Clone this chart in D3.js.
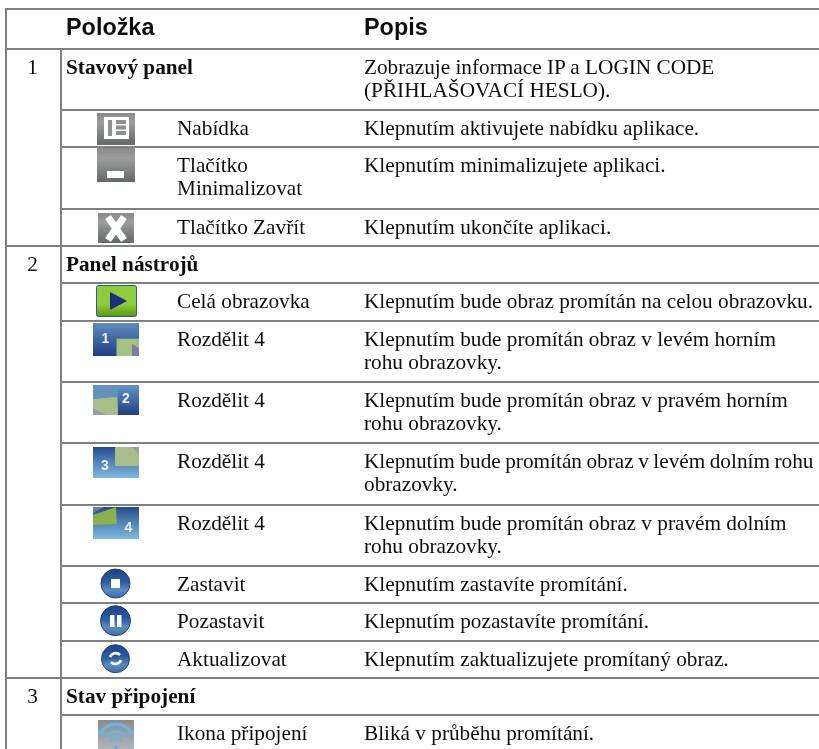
<!DOCTYPE html>
<html>
<head>
<meta charset="utf-8">
<script src="https://cdn.jsdelivr.net/npm/d3@7"></script>
<style>
html, body { margin: 0; padding: 0; background: #fff; overflow: hidden; }
text { fill: #111; }
</style>
</head>
<body>
<svg id="chart" width="819" height="749"></svg>
<script>
const headers = ["Položka", "Popis"];
const sectionNumbers = ["1", "2", "3"];
const rowBold = ["Stavový panel", "", "", "", "Panel nástrojů", "", "", "", "", "", "", "", "", "Stav připojení", ""];
const rowItems = ["", "Nabídka", "Tlačítko\nMinimalizovat", "Tlačítko Zavřít", "", "Celá obrazovka",
    "Rozdělit 4", "Rozdělit 4", "Rozdělit 4", "Rozdělit 4", "Zastavit", "Pozastavit", "Aktualizovat", "", "Ikona připojení"];
const rowDescriptions = [
    "Zobrazuje informace IP a LOGIN CODE\n(PŘIHLAŠOVACÍ HESLO).",
    "Klepnutím aktivujete nabídku aplikace.",
    "Klepnutím minimalizujete aplikaci.",
    "Klepnutím ukončíte aplikaci.",
    "",
    "Klepnutím bude obraz promítán na celou obrazovku.",
    "Klepnutím bude promítán obraz v levém horním\nrohu obrazovky.",
    "Klepnutím bude promítán obraz v pravém horním\nrohu obrazovky.",
    "Klepnutím bude promítán obraz v levém dolním rohu\nobrazovky.",
    "Klepnutím bude promítán obraz v pravém dolním\nrohu obrazovky.",
    "Klepnutím zastavíte promítání.",
    "Klepnutím pozastavíte promítání.",
    "Klepnutím zaktualizujete promítaný obraz.",
    "",
    "Bliká v průběhu promítání."
];
const rowIcons = ["", "menu", "minimize", "close", "", "play", "split1", "split2", "split3", "split4", "stop", "pause", "refresh", "", "wifi"];

// horizontal rules of the table, first one is the top edge, second one closes the header
const rules = [9, 49, 110, 147, 209, 246, 283, 321, 382, 443, 505, 566, 603, 641, 678, 715];
const sectionStarts = [0, 4, 13];

const svg = d3.select("#chart");
const defs = svg.append("defs");
const serif = "'Liberation Serif', serif";
const sans = "'Liberation Sans', sans-serif";
const lineColor = "#808080";
const bodySize = 21.25;
const baseline = i => rules[i + 1] + 24.5;

function addGradient(id, stops) {
    const g = defs.append("linearGradient").attr("id", id)
        .attr("x1", 0).attr("y1", 0).attr("x2", 0).attr("y2", 1);
    stops.forEach(s => g.append("stop").attr("offset", s[0]).attr("stop-color", s[1]));
}
addGradient("gray", [[0, "#8a8a8a"], [0.3, "#9c9c9c"], [1, "#646868"]]);
addGradient("green", [[0, "#8ecb3f"], [0.6, "#8fcf3a"], [1, "#5a9410"]]);
addGradient("blueDark", [[0, "#5f8dbd"], [1, "#1f3f82"]]);
addGradient("blueLight", [[0, "#27498c"], [0.45, "#4d80b4"], [1, "#82b8dc"]]);
addGradient("round", [[0, "#1f4289"], [0.45, "#2f5c9e"], [0.72, "#5a8cc0"], [1, "#3f6ca8"]]);
addGradient("wifiBack", [[0, "#8c8c8c"], [1, "#b0b4b6"]]);

const blur = defs.append("filter").attr("id", "soft");
blur.append("feGaussianBlur").attr("stdDeviation", 0.35);

function drawRules() {
    const g = svg.append("g").attr("stroke", lineColor).attr("stroke-width", 2);
    g.selectAll("line.row").data(rules).enter().append("line")
        .attr("class", "row")
        .attr("x1", (d, i) => (i < 2 || sectionStarts.includes(i - 1)) ? 6 : 61)
        .attr("x2", 819)
        .attr("y1", d => d).attr("y2", d => d);
    g.append("line").attr("x1", 6).attr("x2", 6).attr("y1", 8).attr("y2", 749);
    g.append("line").attr("x1", 61).attr("x2", 61).attr("y1", 49).attr("y2", 749);
}

function drawTexts() {
    const g = svg.append("g").attr("filter", "url(#soft)");
    g.selectAll("text.header").data(headers).enter().append("text")
        .attr("class", "header")
        .attr("x", (d, i) => i === 0 ? 66 : 364)
        .attr("y", 35)
        .attr("font-family", sans).attr("font-weight", "bold").attr("font-size", 23.4)
        .text(d => d);

    g.selectAll("text.num").data(sectionNumbers).enter().append("text")
        .attr("class", "num")
        .attr("x", 32.5).attr("y", (d, i) => baseline(sectionStarts[i]))
        .attr("text-anchor", "middle")
        .attr("font-family", serif).attr("font-size", bodySize)
        .text(d => d);

    g.selectAll("text.bold").data(rowBold).enter().append("text")
        .attr("class", "bold")
        .attr("x", 66).attr("y", (d, i) => baseline(i))
        .attr("font-family", serif).attr("font-weight", "bold").attr("font-size", bodySize)
        .text(d => d);

    function multiline(cls, data, x) {
        const rows = g.selectAll("text." + cls).data(data).enter().append("text")
            .attr("class", cls)
            .attr("x", x)
            .attr("y", (d, i) => baseline(i))
            .attr("font-family", serif).attr("font-size", bodySize);
        rows.selectAll("tspan").data(d => d.split("\n")).enter().append("tspan")
            .attr("x", x)
            .attr("dy", (d, i) => i === 0 ? 0 : 23.7)
            // the long line is set a bit tighter in the original
            .style("word-spacing", d => d.includes("dolním rohu") ? "-0.8px" : null)
            .text(d => d);
    }
    multiline("item", rowItems, 177);
    multiline("desc", rowDescriptions, 364);
}

const iconDrawers = {
    menu(g) {
        g.append("rect").attr("x", 97).attr("y", 113).attr("width", 38).attr("height", 32).attr("fill", "url(#gray)");
        g.append("rect").attr("x", 104).attr("y", 117).attr("width", 25).attr("height", 22).attr("fill", "#fff");
        g.append("rect").attr("x", 108).attr("y", 120).attr("width", 4).attr("height", 16).attr("fill", "#8f9090");
        g.selectAll("rect.bar").data([120, 125.5, 131]).enter().append("rect")
            .attr("x", 116).attr("y", d => d).attr("width", 10).attr("height", 4).attr("fill", "#8f9090");
    },
    minimize(g) {
        g.append("rect").attr("x", 97).attr("y", 148).attr("width", 38).attr("height", 34).attr("fill", "url(#gray)");
        g.append("rect").attr("x", 107).attr("y", 171).attr("width", 17).attr("height", 7).attr("fill", "#fff");
    },
    close(g) {
        g.append("rect").attr("x", 98).attr("y", 213).attr("width", 36).attr("height", 30).attr("fill", "url(#gray)");
        g.append("path").attr("d", "M108 217L124 240M124 217L108 240")
            .attr("fill", "none").attr("stroke", "#fff").attr("stroke-width", 7);
    },
    play(g) {
        g.append("rect").attr("x", 96.5).attr("y", 285.5).attr("width", 40).attr("height", 31).attr("rx", 2)
            .attr("fill", "url(#green)").attr("stroke", "#2c5a90");
        g.append("path").attr("d", "M110 292L127 301L110 310Z").attr("fill", "#1f2f7c");
    },
    split1(g) {
        g.append("rect").attr("x", 93).attr("y", 323).attr("width", 46).attr("height", 33).attr("fill", "url(#blueDark)");
        g.append("rect").attr("x", 116).attr("y", 338).attr("width", 23).attr("height", 18).attr("fill", "#5b80ad");
        g.append("rect").attr("x", 117).attr("y", 339).attr("width", 22).attr("height", 17).attr("fill", "#a3c27f");
        g.append("path").attr("d", "M132 344L139 348L139 356L132 356Z").attr("fill", "#7c7f9c");
        digit(g, "1", 105.5, 343);
    },
    split2(g) {
        g.append("rect").attr("x", 93).attr("y", 385).attr("width", 46).attr("height", 30).attr("fill", "#6390bf");
        g.append("rect").attr("x", 118).attr("y", 388).attr("width", 21).attr("height", 27).attr("fill", "url(#blueDark)");
        g.append("path").attr("d", "M93 399L117 397L118 415L93 415Z").attr("fill", "#a8bd88");
        g.append("path").attr("d", "M93 408L106 415L93 415Z").attr("fill", "#9a9ab0");
        digit(g, "2", 126, 403);
    },
    split3(g) {
        g.append("rect").attr("x", 93).attr("y", 447).attr("width", 46).attr("height", 31).attr("fill", "url(#blueLight)");
        g.append("rect").attr("x", 115).attr("y", 447).attr("width", 24).attr("height", 19).attr("rx", 1).attr("fill", "#a8bd88");
        g.append("path").attr("d", "M132 447L139 447L139 454Z").attr("fill", "#9a9ab0");
        digit(g, "3", 105, 470);
    },
    split4(g) {
        g.append("rect").attr("x", 93).attr("y", 507).attr("width", 46).attr("height", 32).attr("fill", "url(#blueLight)");
        g.append("path").attr("d", "M93 515L116 507L117 524L93 525Z").attr("fill", "#8ab04f");
        g.append("path").attr("d", "M93 507L104 507L93 513Z").attr("fill", "#6d7f9c");
        digit(g, "4", 128.5, 532);
    },
    stop(g) {
        g.append("circle").attr("cx", 115.5).attr("cy", 583.5).attr("r", 14.5).attr("fill", "url(#round)").attr("stroke", "#1f3f78");
        g.append("rect").attr("x", 111).attr("y", 579).attr("width", 9).attr("height", 9).attr("fill", "#fff");
    },
    pause(g) {
        g.append("circle").attr("cx", 115.5).attr("cy", 620.7).attr("r", 15).attr("fill", "url(#round)").attr("stroke", "#1f3f78");
        g.selectAll("rect").data([110, 117]).enter().append("rect")
            .attr("x", d => d).attr("y", 615).attr("width", 4.5).attr("height", 12).attr("fill", "#fff");
    },
    refresh(g) {
        g.append("circle").attr("cx", 115.5).attr("cy", 658.7).attr("r", 14).attr("fill", "url(#round)").attr("stroke", "#1f3f78");
        g.append("path").attr("d", "M110 657A6 6 0 0 1 120 655M121 660A6 6 0 0 1 111 662")
            .attr("fill", "none").attr("stroke", "#fff").attr("stroke-width", 2.6);
    },
    wifi(g) {
        g.append("rect").attr("x", 98).attr("y", 720).attr("width", 36).attr("height", 29).attr("fill", "url(#wifiBack)");
        g.selectAll("path").data([[16, 3.8], [10.5, 3.2], [5.5, 2.6]]).enter().append("path")
            .attr("d", d => `M${116 - d[0]} ${746 - d[0] * 0.72}A${d[0] * 1.1} ${d[0] * 1.1} 0 0 1 ${116 + d[0]} ${746 - d[0] * 0.72}`)
            .attr("fill", "none").attr("stroke", "#6db2e2").attr("stroke-width", d => d[1]);
        g.append("circle").attr("cx", 116).attr("cy", 747).attr("r", 2).attr("fill", "#6db2e2");
    }
};

function digit(g, t, x, y) {
    g.append("text").attr("x", x).attr("y", y)
        .attr("text-anchor", "middle")
        .attr("font-family", sans).attr("font-weight", "bold").attr("font-size", 14)
        .style("fill", "#eef2f6")
        .text(t);
}

const crispIcons = ["menu", "minimize", "close"];

drawRules();
drawTexts();
rowIcons.forEach(name => {
    if (!name) return;
    const g = svg.append("g").attr("class", "icon-" + name);
    if (!crispIcons.includes(name)) g.attr("filter", "url(#soft)");
    iconDrawers[name](g);
});
</script>
</body>
</html>
